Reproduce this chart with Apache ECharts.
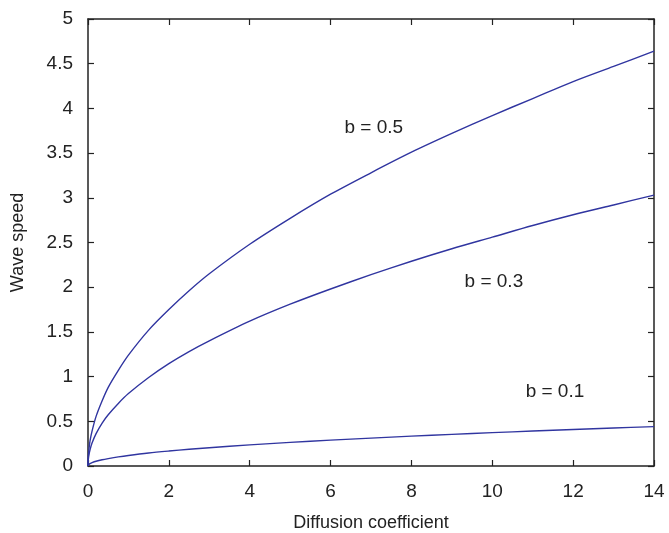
<!DOCTYPE html>
<html>
<head>
<meta charset="utf-8">
<script src="https://cdn.jsdelivr.net/npm/echarts@6/dist/echarts.min.js"></script>
<style>html,body{margin:0;padding:0;background:#fff}#c{width:669px;height:533px}</style>
</head>
<body>
<div id="c"></div>
<script>
const diffusion = [0, 0.005, 0.02, 0.05, 0.1, 0.2, 0.35, 0.5, 0.75, 1, 1.5, 2, 2.5, 3, 4, 5, 6, 7, 8, 9, 10, 11, 12, 13, 14];
const speedB05 = [0, 0.088, 0.175, 0.28, 0.39, 0.555, 0.73, 0.88, 1.07, 1.24, 1.52, 1.75, 1.96, 2.15, 2.48, 2.77, 3.04, 3.28, 3.51, 3.72, 3.92, 4.11, 4.30, 4.47, 4.64];
const speedB03 = [0, 0.057, 0.115, 0.18, 0.256, 0.362, 0.48, 0.573, 0.70, 0.81, 0.99, 1.145, 1.28, 1.40, 1.62, 1.81, 1.98, 2.14, 2.29, 2.43, 2.56, 2.69, 2.81, 2.92, 3.03];
const speedB01 = [0, 0.008, 0.017, 0.026, 0.037, 0.053, 0.07, 0.083, 0.102, 0.118, 0.145, 0.167, 0.187, 0.204, 0.236, 0.264, 0.289, 0.312, 0.334, 0.354, 0.373, 0.391, 0.409, 0.425, 0.44];
const curveLabels = [
  {text: 'b = 0.5', x: 7.07, y: 3.78},
  {text: 'b = 0.3', x: 10.04, y: 2.06},
  {text: 'b = 0.1', x: 11.55, y: 0.83}
];
const xName = 'Diffusion coefficient';
const yName = 'Wave speed';

const pairs = arr => diffusion.map((d, i) => [d, arr[i]]);
const lineColor = '#3035a0';
const font = 'Liberation Sans, Arial, Helvetica, sans-serif';
const axisLineStyle = {color: '#222', width: 1.5};
const tick = {show: true, inside: true, length: 6, lineStyle: {color: '#222', width: 1.2}};
const lineSeries = arr => ({
  type: 'line', data: pairs(arr), smooth: 0.3,
  showSymbol: false, lineStyle: {color: lineColor, width: 1.4}
});

const chart = echarts.init(document.getElementById('c'));
chart.setOption({
  animation: false,
  grid: {left: 88, right: 15, top: 19, bottom: 67, outerBoundsMode: 'none', containLabel: false},
  xAxis: [{
    type: 'value', min: 0, max: 14, interval: 2,
    name: xName, nameLocation: 'middle', nameGap: 48,
    nameTextStyle: {fontSize: 18, color: '#222', fontFamily: font},
    axisLine: {show: true, onZero: false, lineStyle: axisLineStyle},
    axisTick: tick,
    axisLabel: {fontSize: 19, color: '#222', fontFamily: font, margin: 16},
    splitLine: {show: false}
  }, {
    type: 'value', min: 0, max: 14, interval: 2, position: 'top',
    axisLine: {show: true, onZero: false, lineStyle: axisLineStyle},
    axisTick: tick,
    axisLabel: {show: false}, splitLine: {show: false}
  }],
  yAxis: [{
    type: 'value', min: 0, max: 5, interval: 0.5,
    name: yName, nameLocation: 'middle', nameGap: 61, nameRotate: 90,
    nameTextStyle: {fontSize: 18, color: '#222', fontFamily: font},
    axisLine: {show: true, onZero: false, lineStyle: axisLineStyle},
    axisTick: tick,
    axisLabel: {fontSize: 19, color: '#222', fontFamily: font, margin: 15},
    splitLine: {show: false}
  }, {
    type: 'value', min: 0, max: 5, interval: 0.5, position: 'right',
    axisLine: {show: true, onZero: false, lineStyle: axisLineStyle},
    axisTick: tick,
    axisLabel: {show: false}, splitLine: {show: false}
  }],
  series: [
    lineSeries(speedB05),
    lineSeries(speedB03),
    Object.assign(lineSeries(speedB01), {
      markPoint: {
        symbol: 'rect', symbolSize: 1, silent: true,
        itemStyle: {color: 'rgba(0,0,0,0)'},
        label: {show: true, position: 'inside', fontSize: 19, color: '#222', fontFamily: font,
                formatter: p => p.name},
        data: curveLabels.map(l => ({name: l.text, coord: [l.x, l.y]}))
      }
    })
  ]
});
</script>
</body>
</html>
